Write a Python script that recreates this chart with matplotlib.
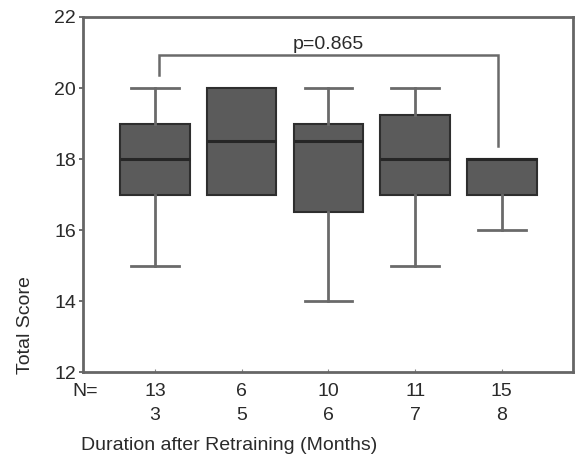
import numpy as np
import matplotlib.pyplot as plt
import matplotlib.transforms as mtransforms

plt.rcParams['font.family'] = ['Liberation Sans', 'DejaVu Sans']

# box stats
months   = ['3', '5', '6', '7', '8']
n_cases  = ['13', '6', '10', '11', '15']
whislo   = [15, 17, 14, 15, 16]
q1       = [17, 17, 16.5, 17, 17]
med      = [18, 18.5, 18.5, 18, 18]
q3       = [19, 20, 19, 19.25, 18]
whishi   = [20, 20, 20, 20, 18]
p_text   = "p=0.865"
bracket_top = 20.92
bracket_left_end = 20.36
bracket_right_end = 18.37

stats = []
for i in range(len(months)):
    stats.append(dict(whislo=whislo[i], q1=q1[i], med=med[i], q3=q3[i],
                      whishi=whishi[i], fliers=[], label=months[i]))

TXT = '#2a2a2a'
FS = 14

fig = plt.figure(figsize=(5.79, 4.67), dpi=100)
ax = fig.add_axes([0.1434, 0.2034, 0.8462, 0.7602])

pos = np.arange(1, len(months) + 1)
bp = ax.bxp(stats, positions=pos, widths=0.8, patch_artist=True, showfliers=False,
            boxprops=dict(facecolor='#5b5b5b', edgecolor='#2e2e2e', linewidth=1.5),
            medianprops=dict(color='#262626', linewidth=2.2),
            whiskerprops=dict(color='#6a6a6a', linewidth=2),
            capprops=dict(color='#6a6a6a', linewidth=2),
            capwidths=0.55)

# no whisker or cap when it sits on the box edge
for i in range(len(months)):
    if whislo[i] == q1[i]:
        bp['caps'][2 * i].set_visible(False)
        bp['whiskers'][2 * i].set_visible(False)
    if whishi[i] == q3[i]:
        bp['caps'][2 * i + 1].set_visible(False)
        bp['whiskers'][2 * i + 1].set_visible(False)

ax.set_xlim(0.17, 5.82)
ax.set_ylim(12, 22)
ax.set_yticks([12, 14, 16, 18, 20, 22])
ax.tick_params(axis='y', labelsize=FS, length=3, width=1.2, color='#555555',
               labelcolor=TXT, pad=2)
ax.set_xticks(pos)
ax.set_xticklabels([])
ax.tick_params(axis='x', length=2, direction='in', color='#888888')
for s in ax.spines.values():
    s.set_color('#666666')
    s.set_linewidth(2)

# significance bracket
x_left, x_right = 1.05, 4.96
ax.plot([x_left, x_left, x_right, x_right],
        [bracket_left_end, bracket_top, bracket_top, bracket_right_end],
        color='#6a6a6a', lw=1.8, solid_joinstyle='miter')
ax.text(3.0, bracket_top + 0.08, p_text, ha='center', va='bottom',
        fontsize=FS, color=TXT)

# N= row and months row below the axis
trans = mtransforms.blended_transform_factory(ax.transData, fig.transFigure)
for i in range(len(months)):
    ax.text(pos[i], 1 - 391 / 467, n_cases[i], transform=trans, ha='center',
            va='center', fontsize=FS, color=TXT)
    ax.text(pos[i], 1 - 415 / 467, months[i], transform=trans, ha='center',
            va='center', fontsize=FS, color=TXT)
fig.text(85 / 579, 1 - 391 / 467, 'N=', ha='center', va='center',
         fontsize=FS, color=TXT)

fig.text(81 / 579, 1 - 446 / 467, 'Duration after Retraining (Months)',
         ha='left', va='center', fontsize=FS, color=TXT)
fig.text(26 / 579, 1 - 325 / 467, 'Total Score', rotation=90, ha='center',
         va='center', fontsize=FS, color=TXT)

fig.savefig('out.png', dpi=100)
